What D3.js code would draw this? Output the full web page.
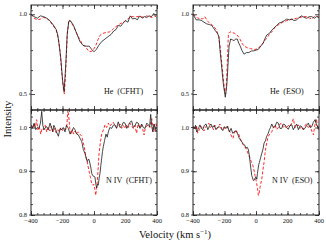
<!DOCTYPE html>
<html>
<head>
<meta charset="utf-8">
<script src="https://cdn.jsdelivr.net/npm/d3@7"></script>
<style>
  body { margin: 0; background: #fff; }
  svg { display: block; }
  text { font-family: "Liberation Serif", "Times New Roman", serif; }
  .frame { fill: none; stroke: #222; stroke-width: 1; }
  .ticklabel { font-size: 6.5px; fill: #111; }
  .obs { fill: none; stroke: #1a1a1a; stroke-width: 0.8; }
  .model { fill: none; stroke: #ff2a2a; stroke-width: 1; stroke-dasharray: 3,1.8; }
</style>
</head>
<body>
<svg width="326" height="251"></svg>
<script>
// Panel names and tick labels:
var panelLabels = ['He  (CFHT)', 'He  (ESO)', 'N IV  (CFHT)', 'N IV  (ESO)'];
var velTicks = [-400, -200, 0, 200, 400];
var heTicks = [0.5, 1.0];
var nTicks = [0.8, 0.9, 1.0];

// He line, CFHT: [velocity, intensity] observed (black) and model (red dashed)
var heCfhtObs = [[-400,1.000],[-380,0.985],[-360,0.975],[-340,0.990],[-320,0.985],[-300,0.975],[-280,0.960],[-260,0.935],[-240,0.905],[-230,0.870],[-220,0.800],[-210,0.715],[-200,0.590],[-190,0.515],[-180,0.670],[-170,0.880],[-160,0.955],[-150,0.960],[-130,0.930],[-110,0.880],[-90,0.830],[-70,0.805],[-50,0.800],[-30,0.800],[-15,0.780],[0,0.765],[15,0.780],[30,0.805],[50,0.830],[70,0.845],[90,0.860],[110,0.875],[125,0.895],[140,0.905],[155,0.930],[170,0.925],[185,0.945],[200,0.960],[215,0.950],[230,0.990],[245,0.970],[260,0.975],[275,0.965],[290,0.990],[305,0.975],[320,0.985],[335,0.980],[350,0.990],[365,0.985],[380,1.005],[395,0.990]];
var heCfhtMod = [[-400,1.000],[-380,0.975],[-360,0.965],[-340,0.970],[-320,0.980],[-300,0.975],[-280,0.955],[-260,0.930],[-240,0.900],[-225,0.840],[-215,0.760],[-205,0.640],[-195,0.540],[-188,0.500],[-180,0.640],[-170,0.860],[-160,0.965],[-150,0.955],[-130,0.925],[-110,0.880],[-90,0.840],[-70,0.810],[-50,0.790],[-30,0.765],[-10,0.770],[10,0.800],[25,0.840],[40,0.870],[55,0.880],[75,0.885],[100,0.890],[120,0.905],[135,0.920],[165,0.940],[195,0.955],[215,0.970],[230,0.985],[250,0.985],[270,0.985],[300,0.985],[320,0.980],[335,0.990],[350,0.985],[370,0.980],[385,0.990],[400,0.980]];

// He line, ESO:
var heEsoObs = [[-400,1.000],[-380,0.965],[-360,0.965],[-345,0.960],[-330,0.950],[-313,0.940],[-295,0.935],[-281,0.930],[-260,0.900],[-245,0.880],[-235,0.860],[-229,0.780],[-218,0.670],[-207,0.560],[-195,0.480],[-185,0.560],[-178,0.680],[-171,0.800],[-161,0.845],[-150,0.840],[-140,0.835],[-128,0.845],[-119,0.845],[-110,0.820],[-100,0.800],[-90,0.775],[-76,0.750],[-60,0.760],[-45,0.760],[-30,0.770],[-17,0.770],[0,0.775],[15,0.780],[30,0.800],[46,0.820],[58,0.850],[68,0.870],[85,0.880],[100,0.900],[115,0.915],[131,0.930],[147,0.945],[163,0.950],[180,0.960],[195,0.970],[212,0.965],[227,0.970],[242,0.960],[258,0.965],[274,0.980],[290,0.990],[306,0.980],[322,0.975],[338,0.985],[354,0.985],[370,0.975],[385,0.985],[398,0.980]];
var heEsoMod = [[-400,1.000],[-385,0.990],[-370,0.975],[-355,0.975],[-340,0.970],[-325,0.985],[-310,0.960],[-295,0.945],[-280,0.935],[-265,0.920],[-250,0.900],[-238,0.860],[-228,0.800],[-218,0.700],[-208,0.600],[-198,0.510],[-192,0.500],[-186,0.600],[-180,0.760],[-175,0.880],[-165,0.890],[-150,0.885],[-135,0.880],[-120,0.870],[-105,0.850],[-90,0.820],[-75,0.800],[-55,0.790],[-35,0.785],[-15,0.780],[0,0.780],[15,0.790],[30,0.800],[45,0.820],[60,0.840],[75,0.860],[90,0.880],[105,0.895],[121,0.920],[137,0.930],[153,0.940],[170,0.950],[195,0.960],[215,0.965],[237,0.970],[258,0.975],[280,0.980],[300,0.985],[322,0.985],[340,0.975],[354,0.970],[370,0.985],[386,0.990],[400,0.980]];

// N IV line, CFHT:
var nCfhtObs = [[-400,1.005],[-390,1.000],[-380,1.010],[-370,0.995],[-360,1.000],[-350,0.998],[-340,1.010],[-332,1.037],[-325,1.005],[-317,0.995],[-308,1.000],[-300,1.002],[-290,0.995],[-279,1.010],[-270,1.000],[-262,0.990],[-255,1.005],[-248,1.000],[-238,0.990],[-226,0.980],[-215,0.998],[-205,0.995],[-195,1.000],[-184,0.990],[-175,1.005],[-163,0.998],[-152,0.985],[-142,0.990],[-130,1.000],[-121,0.995],[-110,0.985],[-99,0.983],[-88,0.975],[-78,0.968],[-68,0.950],[-57,0.940],[-50,0.930],[-42,0.922],[-35,0.928],[-30,0.925],[-21,0.910],[-14,0.895],[-8,0.890],[0,0.888],[6,0.887],[12,0.870],[17,0.862],[22,0.870],[27,0.868],[33,0.885],[38,0.895],[44,0.915],[49,0.930],[54,0.945],[59,0.956],[67,0.970],[76,0.985],[84,0.978],[91,0.990],[100,1.000],[112,0.998],[122,1.005],[133,1.006],[143,0.998],[154,1.013],[165,1.000],[176,1.003],[186,1.012],[197,1.010],[208,0.998],[218,1.005],[228,1.012],[239,1.015],[250,1.000],[260,1.004],[270,1.012],[281,1.010],[292,0.998],[303,1.008],[313,1.000],[324,0.998],[335,1.010],[345,1.006],[353,1.002],[360,1.030],[366,1.005],[373,0.990],[380,1.008],[387,1.002],[393,0.990],[400,0.995]];
var nCfhtMod = [[-400,1.006],[-390,0.998],[-380,1.008],[-372,1.000],[-364,1.018],[-356,0.995],[-348,1.002],[-338,0.985],[-330,0.998],[-320,0.995],[-310,1.005],[-300,0.990],[-290,1.000],[-280,0.992],[-270,1.003],[-260,0.990],[-250,0.998],[-240,0.988],[-230,0.995],[-220,0.990],[-210,1.000],[-200,0.993],[-190,0.998],[-180,0.995],[-172,1.005],[-166,1.040],[-160,1.025],[-154,0.998],[-146,0.985],[-138,0.995],[-130,0.985],[-120,0.992],[-110,0.985],[-100,0.990],[-90,0.985],[-78,0.980],[-70,0.968],[-62,0.956],[-54,0.940],[-46,0.926],[-38,0.912],[-30,0.898],[-22,0.885],[-15,0.872],[-7,0.868],[0,0.870],[6,0.858],[11,0.845],[16,0.860],[21,0.875],[26,0.905],[32,0.940],[40,0.965],[49,0.985],[60,0.995],[70,1.006],[80,1.000],[91,1.010],[100,1.003],[112,1.008],[122,1.012],[133,1.005],[143,1.000],[154,1.003],[165,1.008],[176,0.998],[186,1.005],[197,0.998],[208,1.006],[218,1.000],[228,1.010],[239,1.003],[250,0.998],[260,1.005],[270,0.987],[280,1.008],[290,1.000],[300,1.005],[310,0.995],[318,0.983],[326,1.000],[335,1.003],[345,1.006],[355,1.000],[362,1.015],[367,1.020],[373,1.000],[380,0.990],[387,1.008],[393,1.010],[400,1.002]];

// N IV line, ESO:
var nEsoObs = [[-400,1.002],[-391,0.998],[-384,1.005],[-377,0.990],[-370,0.995],[-363,1.000],[-356,1.006],[-347,0.998],[-338,0.995],[-328,1.005],[-317,1.008],[-306,0.995],[-296,1.003],[-286,1.008],[-275,1.000],[-265,1.005],[-254,0.995],[-244,1.000],[-233,1.002],[-222,0.998],[-211,0.993],[-200,1.002],[-190,0.998],[-180,1.003],[-169,0.990],[-158,0.998],[-148,0.987],[-137,0.990],[-127,0.992],[-116,0.985],[-106,0.975],[-95,0.970],[-84,0.964],[-73,0.960],[-63,0.953],[-56,0.955],[-49,0.950],[-43,0.938],[-38,0.922],[-32,0.905],[-27,0.890],[-22,0.885],[-17,0.879],[-10,0.880],[-5,0.885],[0,0.887],[5,0.882],[9,0.895],[13,0.905],[17,0.914],[21,0.920],[25,0.925],[30,0.932],[36,0.940],[44,0.950],[51,0.964],[60,0.970],[68,0.980],[76,0.985],[85,0.995],[92,1.000],[100,1.008],[110,1.000],[121,1.002],[131,1.012],[142,1.010],[152,0.998],[163,0.998],[174,1.008],[184,1.006],[195,1.000],[205,0.996],[216,1.005],[227,1.006],[237,0.995],[248,1.002],[258,1.008],[269,0.995],[280,1.004],[290,1.002],[300,0.995],[311,0.998],[321,1.005],[332,1.010],[343,1.000],[354,1.002],[364,1.012],[375,1.018],[385,1.005],[396,1.000],[400,1.003]];
var nEsoMod = [[-400,1.003],[-392,1.000],[-385,0.995],[-378,1.005],[-370,0.987],[-360,0.995],[-350,1.003],[-340,0.998],[-330,0.992],[-320,1.002],[-310,1.005],[-300,1.010],[-290,1.000],[-280,1.003],[-270,0.995],[-260,1.005],[-250,0.998],[-240,1.000],[-230,1.008],[-225,1.006],[-215,0.995],[-205,1.000],[-195,0.998],[-185,1.003],[-175,0.995],[-165,0.990],[-159,0.983],[-152,0.978],[-146,0.975],[-138,0.988],[-130,0.995],[-120,0.990],[-110,0.985],[-100,0.975],[-90,0.965],[-80,0.960],[-70,0.955],[-60,0.950],[-50,0.940],[-38,0.930],[-30,0.922],[-21,0.915],[-14,0.905],[-6,0.890],[0,0.880],[4,0.872],[10,0.860],[15,0.845],[20,0.850],[25,0.862],[30,0.872],[36,0.880],[43,0.900],[51,0.920],[57,0.940],[63,0.955],[70,0.968],[78,0.980],[88,0.985],[100,0.990],[110,1.000],[121,1.006],[131,0.995],[142,1.000],[153,1.008],[163,1.010],[174,1.000],[184,1.003],[195,0.998],[205,1.005],[216,1.002],[227,1.010],[237,1.020],[248,1.000],[258,1.003],[269,1.006],[280,0.998],[290,1.002],[300,0.996],[311,1.005],[321,1.008],[332,1.000],[343,1.006],[354,0.992],[365,0.983],[373,1.005],[383,1.020],[390,1.005],[396,0.995],[400,1.000]];

var svg = d3.select('svg');
var serif = 'Liberation Serif';

// Column positions (left / right) and row positions (top / bottom):
var cols = [[31, 157], [193, 319]];
var rows = [[5, 110], [110, 215]];

// Each panel: row, column, data, y-domain and tick setup
var panels = [
  { row: 0, col: 0, obs: heCfhtObs, mod: heCfhtMod, label: panelLabels[0], ydom: [0.4, 1.058], yt: heTicks, ystep: 0.125, lx: 104, ly: 94 },
  { row: 0, col: 1, obs: heEsoObs, mod: heEsoMod, label: panelLabels[1], ydom: [0.4, 1.058], yt: heTicks, ystep: 0.125, lx: 270, ly: 94 },
  { row: 1, col: 0, obs: nCfhtObs, mod: nCfhtMod, label: panelLabels[2], ydom: [0.8, 1.04], yt: nTicks, ystep: 0.025, lx: 106, ly: 183 },
  { row: 1, col: 1, obs: nEsoObs, mod: nEsoMod, label: panelLabels[3], ydom: [0.8, 1.04], yt: nTicks, ystep: 0.025, lx: 272, ly: 183 }
];

panels.forEach(drawPanel);

function drawPanel(p, i) {
  var x = d3.scaleLinear().domain([-400, 400]).range(cols[p.col]);
  var y = d3.scaleLinear().domain(p.ydom).range([rows[p.row][1], rows[p.row][0]]);
  var x0 = cols[p.col][0], x1 = cols[p.col][1];
  var y0 = rows[p.row][0], y1 = rows[p.row][1];

  var g = svg.append('g');

  // Clip the spectra to the frame:
  svg.append('clipPath').attr('id', 'clip' + i)
    .append('rect').attr('x', x0).attr('y', y0).attr('width', x1 - x0).attr('height', y1 - y0);

  var line = d3.line()
    .x(function (d) { return x(d[0]); })
    .y(function (d) { return y(d[1]); });

  var curves = g.append('g').attr('clip-path', 'url(#clip' + i + ')');
  curves.append('path').datum(p.mod).attr('class', 'model').attr('d', line);
  curves.append('path').datum(p.obs).attr('class', 'obs').attr('d', line);

  // Minor ticks along x every 40, major every 200:
  var xMinor = d3.range(-400, 401, 40);
  // Minor ticks along y:
  var yMinor = d3.range(p.ydom[0], p.ydom[1] + 1e-9, p.ystep).map(function (v) { return Math.round(v * 1000) / 1000; });

  var axB = d3.axisBottom(x).tickValues(xMinor).tickSize(-2).tickFormat('');
  var axBM = d3.axisBottom(x).tickValues(velTicks).tickSize(-4).tickFormat('');
  var axT = d3.axisTop(x).tickValues(xMinor).tickSize(-2).tickFormat('');
  var axTM = d3.axisTop(x).tickValues(velTicks).tickSize(-4).tickFormat('');
  [axB, axBM].forEach(function (a) {
    g.append('g').attr('transform', 'translate(0,' + y1 + ')').call(a).call(cleanAxis);
  });
  [axT, axTM].forEach(function (a) {
    g.append('g').attr('transform', 'translate(0,' + y0 + ')').call(a).call(cleanAxis);
  });

  var axL = d3.axisLeft(y).tickValues(yMinor).tickSize(-2).tickFormat('');
  var axLM = d3.axisLeft(y).tickValues(p.yt).tickSize(-4).tickFormat('');
  var axR = d3.axisRight(y).tickValues(yMinor).tickSize(-2).tickFormat('');
  var axRM = d3.axisRight(y).tickValues(p.yt).tickSize(-4).tickFormat('');
  [axL, axLM].forEach(function (a) {
    g.append('g').attr('transform', 'translate(' + x0 + ',0)').call(a).call(cleanAxis);
  });
  [axR, axRM].forEach(function (a) {
    g.append('g').attr('transform', 'translate(' + x1 + ',0)').call(a).call(cleanAxis);
  });

  // Y tick labels (left side of each panel, with a small outside tick):
  g.selectAll('.ylab').data(p.yt).enter()
    .append('text')
    .attr('class', 'ticklabel')
    .attr('font-family', serif)
    .attr('x', x0 - 4)
    .attr('y', function (d) { return y(d) + 2.2; })
    .attr('text-anchor', 'end')
    .text(function (d) { return d3.format('.1f')(d); });
  g.selectAll('.ytick').data(p.yt).enter()
    .append('line')
    .attr('x1', x0 - 2).attr('x2', x0)
    .attr('y1', function (d) { return y(d); })
    .attr('y2', function (d) { return y(d); })
    .attr('stroke', '#222').attr('stroke-width', 0.8);

  // X tick labels only on the bottom row:
  if (p.row === 1) {
    g.selectAll('.xlab').data(velTicks).enter()
      .append('text')
      .attr('class', 'ticklabel')
      .attr('font-family', serif)
      .attr('x', function (d) { return x(d); })
      .attr('y', y1 + 8)
      .attr('text-anchor', 'middle')
      .text(function (d) { return d < 0 ? '\u2212' + Math.abs(d) : d; });
  }

  // Frame:
  g.append('rect').attr('class', 'frame')
    .attr('x', x0).attr('y', y0).attr('width', x1 - x0).attr('height', y1 - y0);

  // Panel label:
  g.append('text')
    .attr('x', p.lx).attr('y', p.ly)
    .attr('font-family', serif)
    .attr('font-size', '8px')
    .attr('fill', '#111')
    .attr('xml:space', 'preserve')
    .style('white-space', 'pre')
    .text(p.label);
}

// Remove the domain path that d3 axes draw:
function cleanAxis(sel) {
  sel.select('.domain').remove();
  sel.selectAll('line').attr('stroke', '#222').attr('stroke-width', 0.8);
}

// Axis titles:
svg.append('text')
  .attr('transform', 'translate(11,119) rotate(-90)')
  .attr('text-anchor', 'middle')
  .attr('font-family', serif)
  .attr('font-size', '10.5px')
  .attr('fill', '#111')
  .text('Intensity');

var xt = svg.append('text')
  .attr('x', 175)
  .attr('y', 238)
  .attr('text-anchor', 'middle')
  .attr('font-family', serif)
  .attr('font-size', '10.5px')
  .attr('fill', '#111');
xt.append('tspan').text('Velocity (km s');
xt.append('tspan').attr('dy', -4).attr('font-size', '7px').text('\u22121');
xt.append('tspan').attr('dy', 4).text(')');
</script>
</body>
</html>
